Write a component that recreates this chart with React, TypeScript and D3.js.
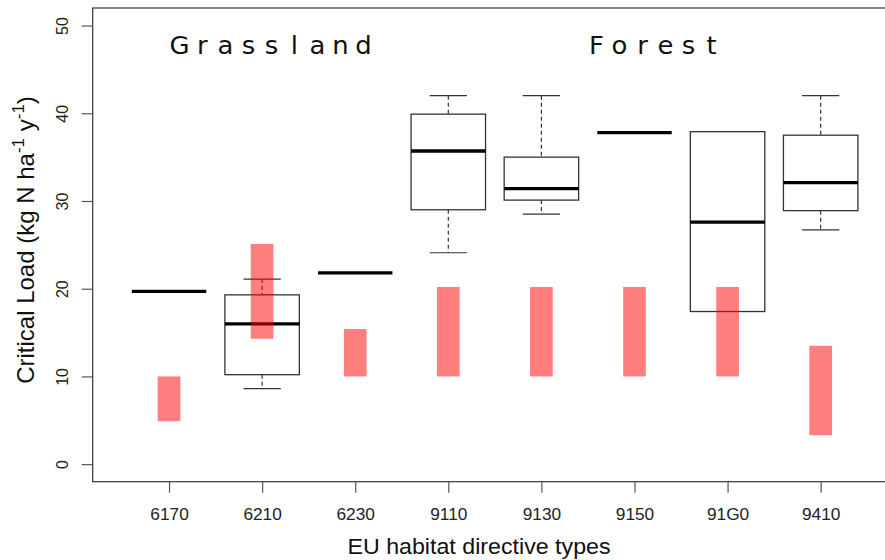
import React, { useEffect, useRef } from "react"
import * as d3 from "d3"

// habitat types on the x axis
const habitats = ["6170", "6210", "6230", "9110", "9130", "9150", "91G0", "9410"]

// boxplot stats of the critical loads (kg N / ha / y)
const whiskerLow = [19.7, 8.6, 21.8, 24.1, 28.5, 37.8, 17.4, 26.7]
const q1 = [19.7, 10.2, 21.8, 29.0, 30.1, 37.8, 17.4, 28.9]
const median = [19.7, 16.0, 21.8, 35.7, 31.4, 37.8, 27.6, 32.1]
const q3 = [19.7, 19.3, 21.8, 39.9, 35.0, 37.8, 37.9, 37.5]
const whiskerHigh = [19.7, 21.1, 21.8, 42.0, 42.0, 37.8, 37.9, 42.0]

// empirical critical load ranges (red bars)
const rangeLow = [4.9, 14.3, 10, 10, 10, 10, 10, 3.3]
const rangeHigh = [10, 25.1, 15.4, 20.2, 20.2, 20.2, 20.2, 13.5]

const yTicks = [0, 10, 20, 30, 40, 50]

// group labels, placed in data units
const groupLabels = ["Grassland", "Forest"]
const groupLabelX = [2.1, 6.21]
const groupLabelY = 46.7

export default function App() {
  const ref = useRef<SVGSVGElement>(null)

  useEffect(() => {
    const svg = d3.select(ref.current)
    svg.selectAll("*").remove()

    const left = 92.7, right = 897, top = 8, bottom = 481.7
    const sx = 1.08 // the picture is a bit stretched sideways
    const sans = "'Liberation Sans', Arial, sans-serif"

    const x = d3.scaleLinear().domain([0.18, 8.82]).range([left, right])
    const y = d3.scaleLinear().domain([-2, 52]).range([bottom, top])
    const unit = x(1) - x(0)

    // frame
    svg.append("rect")
      .attr("x", left).attr("y", top)
      .attr("width", right - left).attr("height", bottom - top)
      .attr("fill", "none").attr("stroke", "#333").attr("stroke-width", 1.2)

    // y axis
    const yAxis = svg.append("g")
      .attr("transform", `translate(${left},0)`)
      .call(d3.axisLeft(y).tickValues(yTicks).tickSize(11).tickFormat(d3.format("d")))
    yAxis.select(".domain").remove()
    yAxis.selectAll("line").attr("stroke", "#555").attr("stroke-width", 1.2)
    yAxis.selectAll("text")
      .attr("x", 0).attr("y", 0).attr("dy", null)
      .attr("text-anchor", "middle")
      .attr("transform", `translate(-25,0) scale(${sx},1) rotate(-90)`)
      .attr("font-family", sans).attr("font-size", 16).attr("fill", "#222")

    // x axis
    const xAxis = svg.append("g")
      .attr("transform", `translate(0,${bottom})`)
      .call(d3.axisBottom(x).tickValues(d3.range(1, habitats.length + 1))
        .tickSize(11).tickFormat((d) => habitats[(d as number) - 1]))
    xAxis.select(".domain").remove()
    xAxis.selectAll("line").attr("stroke", "#555").attr("stroke-width", 1.2)
    xAxis.selectAll("text")
      .attr("x", 0).attr("y", 0).attr("dy", null)
      .attr("transform", `translate(0,38.5) scale(${sx},1)`)
      .attr("font-family", sans).attr("font-size", 16).attr("fill", "#222")

    // boxes
    const bw = 0.8 * unit
    const cw = 0.4 * unit
    const g = svg.append("g")
    habitats.forEach((h, i) => {
      const cx = x(i + 1)
      if (whiskerHigh[i] > q3[i]) {
        g.append("line").attr("x1", cx).attr("x2", cx)
          .attr("y1", y(whiskerHigh[i])).attr("y2", y(q3[i]))
          .attr("stroke", "#333").attr("stroke-width", 1.2).attr("stroke-dasharray", "4,3")
        g.append("line").attr("x1", cx - cw / 2).attr("x2", cx + cw / 2)
          .attr("y1", y(whiskerHigh[i])).attr("y2", y(whiskerHigh[i]))
          .attr("stroke", "#333").attr("stroke-width", 1.2)
      }
      if (whiskerLow[i] < q1[i]) {
        g.append("line").attr("x1", cx).attr("x2", cx)
          .attr("y1", y(q1[i])).attr("y2", y(whiskerLow[i]))
          .attr("stroke", "#333").attr("stroke-width", 1.2).attr("stroke-dasharray", "4,3")
        g.append("line").attr("x1", cx - cw / 2).attr("x2", cx + cw / 2)
          .attr("y1", y(whiskerLow[i])).attr("y2", y(whiskerLow[i]))
          .attr("stroke", "#333").attr("stroke-width", 1.2)
      }
      g.append("rect")
        .attr("x", cx - bw / 2).attr("y", y(q3[i]))
        .attr("width", bw).attr("height", y(q1[i]) - y(q3[i]))
        .attr("fill", "none").attr("stroke", "#333").attr("stroke-width", 1.3)
      g.append("line").attr("x1", cx - bw / 2).attr("x2", cx + bw / 2)
        .attr("y1", y(median[i])).attr("y2", y(median[i]))
        .attr("stroke", "#000").attr("stroke-width", 3.3)
    })

    // red ranges drawn over the boxes, half transparent
    svg.append("g").selectAll("rect")
      .data(habitats)
      .join("rect")
      .attr("x", (d, i) => x(i + 1) - 0.122 * unit)
      .attr("y", (d, i) => y(rangeHigh[i]))
      .attr("width", 0.244 * unit)
      .attr("height", (d, i) => y(rangeLow[i]) - y(rangeHigh[i]))
      .attr("fill", "rgba(255,0,0,0.5)")

    // group labels, letters spread out evenly
    const step = 23 / sx
    groupLabels.forEach((lab, k) => {
      const n = lab.length
      const xs = d3.range(n).map((j) => (j - (n - 1) / 2) * step)
      svg.append("text")
        .attr("transform", `translate(${x(groupLabelX[k])},${y(groupLabelY)}) scale(${sx},1)`)
        .attr("x", xs.join(" "))
        .attr("text-anchor", "middle")
        .attr("font-family", "'DejaVu Sans', sans-serif")
        .attr("font-size", 24)
        .attr("fill", "#111")
        .text(lab)
    })

    // axis titles
    svg.append("text")
      .attr("transform", `translate(479,554) scale(${sx},1)`)
      .attr("text-anchor", "middle")
      .attr("font-family", sans).attr("font-size", 21.5).attr("fill", "#111")
      .text("EU habitat directive types")

    const yt = svg.append("text")
      .attr("transform", `translate(33.5,240) rotate(-90)`)
      .attr("text-anchor", "middle")
      .attr("font-family", sans).attr("font-size", 24).attr("fill", "#111")
    yt.append("tspan").text("Critical Load (kg N ha")
    yt.append("tspan").attr("font-size", 17).attr("dy", -10).text("-1")
    yt.append("tspan").attr("dy", 10).text(" y")
    yt.append("tspan").attr("font-size", 17).attr("dy", -10).text("-1")
    yt.append("tspan").attr("dy", 10).text(")")
  }, [])

  return (
    <svg
      ref={ref}
      width={885}
      height={560}
      style={{ position: "absolute", left: 0, top: 0, background: "#fff" }}
    />
  )
}
